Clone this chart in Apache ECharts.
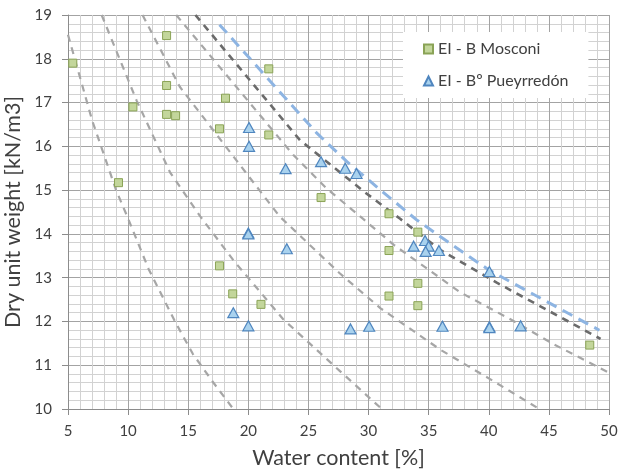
<!DOCTYPE html>
<html>
<head>
<meta charset="utf-8">
<script src="https://cdn.jsdelivr.net/npm/echarts@6/dist/echarts.min.js"></script>
<style>
  html, body { margin: 0; padding: 0; background: #ffffff; }
  #chart { width: 619px; height: 469px; }
</style>
</head>
<body>
<div id="chart"></div>
<script>
// Compaction test results: [water content %, dry unit weight kN/m3]
const mosconi = [
  [5.4, 17.9], [9.2, 15.17], [10.4, 16.9], [13.2, 18.53], [13.2, 17.39],
  [13.2, 16.73], [13.95, 16.7], [17.6, 16.4], [18.1, 17.1], [21.7, 17.77],
  [21.7, 16.26], [26.05, 14.83], [17.6, 13.27], [18.7, 12.63], [21.05, 12.39],
  [31.7, 14.46], [34.1, 14.04], [31.7, 13.62], [34.1, 12.87], [31.7, 12.58],
  [34.1, 12.36], [48.4, 11.46]
];
const pueyrredon = [
  [20.06, 16.43], [20.06, 16.0], [23.1, 15.49], [26.05, 15.65], [28.06, 15.5],
  [29.0, 15.38], [20.0, 14.02], [20.0, 14.0], [23.2, 13.66], [18.75, 12.2],
  [20.0, 11.9], [28.5, 11.83], [30.05, 11.89], [33.75, 13.72], [34.7, 13.85],
  [35.0, 13.72], [34.75, 13.6], [35.85, 13.62], [36.15, 11.89], [40.05, 13.14],
  [40.05, 11.88], [40.05, 11.86], [42.65, 11.9]
];

// Reference curves (constant degree of saturation)
const saturationA = [[5, 18.55], [7, 16.6], [9, 15.0], [10, 14.35], [11.7, 13.2], [13.9, 12.0], [15.4, 11.25], [17.1, 10.6], [18.75, 10]];
const saturationB = [[7.8, 19], [10.7, 17.05], [13.5, 15.4], [16, 14.4], [18.75, 13.4], [22.9, 12.05], [27.6, 10.87], [31.1, 10]];
const saturationC = [[11.2, 19], [14.3, 17.36], [21, 14.97], [22.6, 14.4], [27.6, 13.1], [31, 12.3], [36, 11.35], [40, 10.7], [44.2, 10]];
const saturationD = [[14.0, 19], [23.75, 15.8], [26.5, 15.04], [29.3, 14.4], [32.1, 13.75], [37.6, 12.67], [41.8, 12.05], [45.4, 11.48], [50, 10.83]];
const zeroAirVoidsDark = [[15.6, 19], [24.3, 16.14], [29.7, 14.95], [32.6, 14.35], [34, 14.05], [36, 13.63], [38.2, 13.28], [40.7, 12.88], [49.3, 11.6]];
const zeroAirVoidsBlue = [[17.6, 18.78], [25.7, 16.3], [28.2, 15.65], [31, 15.0], [34, 14.32], [37.1, 13.72], [40.1, 13.16], [49.2, 11.8]];

// Axis settings
const xTicks = { min: 5, max: 50, interval: 5 };
const yTicks = { min: 10, max: 19, interval: 1 };

const FONT = 'Lato, "Open Sans", sans-serif';
const TEXT = '#404040';

function curve(data, color, width, dash) {
  return {
    type: 'line',
    data: data,
    showSymbol: false,
    symbol: 'none',
    smooth: false,
    silent: true,
    z: 2,
    lineStyle: { color: color, width: width, type: dash, cap: 'butt' }
  };
}

const chart = echarts.init(document.getElementById('chart'), null, { renderer: 'canvas' });
chart.setOption({
  animation: false,
  backgroundColor: '#ffffff',
  grid: { left: 68, right: 10, top: 15, bottom: 60, containLabel: false, outerBoundsMode: 'none' },
  legend: {
    data: [
      { name: 'EI - B Mosconi', icon: 'rect' },
      { name: 'EI - Bº Pueyrredón', icon: 'triangle' }
    ],
    orient: 'vertical',
    left: 403,
    top: 32,
    backgroundColor: '#ffffff',
    padding: [8, 20, 8, 20],
    itemGap: 14,
    itemWidth: 9,
    itemHeight: 9,
    textStyle: { fontFamily: FONT, fontSize: 16, color: TEXT, lineHeight: 18 }
  },
  xAxis: {
    type: 'value',
    min: xTicks.min, max: xTicks.max, interval: xTicks.interval,
    name: 'Water content [%]',
    nameLocation: 'middle',
    nameGap: 38,
    nameTextStyle: { fontFamily: FONT, fontSize: 21.5, color: TEXT },
    axisLine: { show: true, onZero: false, lineStyle: { color: '#8c8c8c', width: 1 } },
    axisTick: { show: true, length: 6, lineStyle: { color: '#8c8c8c' } },
    axisLabel: { fontFamily: FONT, fontSize: 15, color: TEXT, margin: 15 },
    splitLine: { show: true, lineStyle: { color: '#a3a3a3', width: 1 } },
    minorTick: { show: false, splitNumber: 5 },
    minorSplitLine: { show: true, lineStyle: { color: '#d2d2d2', width: 1 } }
  },
  yAxis: {
    type: 'value',
    min: yTicks.min, max: yTicks.max, interval: yTicks.interval,
    name: 'Dry unit weight [kN/m3]',
    nameLocation: 'middle',
    nameGap: 38,
    nameRotate: 90,
    nameTextStyle: { fontFamily: FONT, fontSize: 21.5, color: TEXT },
    axisLine: { show: true, onZero: false, lineStyle: { color: '#8c8c8c', width: 1 } },
    axisTick: { show: true, length: 6, lineStyle: { color: '#8c8c8c' } },
    axisLabel: { fontFamily: FONT, fontSize: 15, color: TEXT, margin: 16 },
    splitLine: { show: true, lineStyle: { color: '#a3a3a3', width: 1 } },
    minorTick: { show: false, splitNumber: 5 },
    minorSplitLine: { show: true, lineStyle: { color: '#d2d2d2', width: 1 } }
  },
  series: [
    curve(saturationA, '#a6a6a6', 2.2, [7, 6]),
    curve(saturationB, '#a6a6a6', 2.2, [7, 6]),
    curve(saturationC, '#a6a6a6', 2.2, [7, 6]),
    curve(saturationD, '#a6a6a6', 2.2, [7, 6]),
    curve(zeroAirVoidsDark, '#6b6b6b', 2.6, [7, 6]),
    curve(zeroAirVoidsBlue, '#8db4e2', 3, [11, 7]),
    {
      name: 'EI - B Mosconi',
      type: 'scatter',
      data: mosconi,
      symbol: 'rect',
      symbolSize: 8,
      z: 5,
      itemStyle: { color: '#c3d69b', borderColor: '#8aa356', borderWidth: 1, opacity: 1 }
    },
    {
      name: 'EI - Bº Pueyrredón',
      type: 'scatter',
      data: pueyrredon,
      symbol: 'triangle',
      symbolSize: [11, 10],
      z: 6,
      itemStyle: { color: '#a9d2ee', borderColor: '#4f86bf', borderWidth: 1.2, opacity: 1 }
    }
  ]
});
</script>
</body>
</html>
